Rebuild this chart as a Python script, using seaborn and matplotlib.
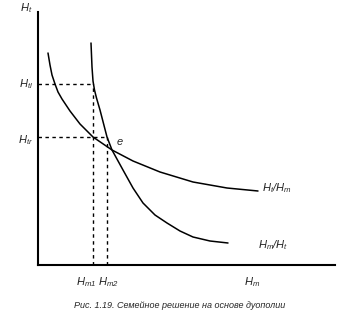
import matplotlib
matplotlib.use("Agg")
import matplotlib.pyplot as plt
import seaborn as sns
import pandas as pd

# Curve H_t/H_m (flatter)
c1_x = [10, 12, 14, 17, 20, 24, 32, 42, 55, 74, 95, 122, 155, 189, 220]
c1_y = [212, 200, 190, 181, 173, 166, 154, 141, 128, 115, 104, 93, 83, 77, 74]
# Curve H_m/H_t (steeper)
c2_x = [53, 53.5, 54, 55, 56.5, 58.5, 62, 69, 74, 85, 95, 105, 117, 129, 142, 155, 172, 190]
c2_y = [222, 210, 198, 184, 175, 167, 155, 128, 115, 95, 77, 62, 50, 42, 34, 28, 24, 22]

# guide levels
h_tl = 181
h_tr = 128
h_m1 = 55
h_m2 = 69

sns.set_style("white")
plt.rcParams['font.family'] = ['Liberation Sans', 'DejaVu Sans']
plt.rcParams['mathtext.fontset'] = 'custom'
plt.rcParams['mathtext.it'] = 'Liberation Sans:italic'
plt.rcParams['mathtext.rm'] = 'Liberation Sans:italic'

fig = plt.figure(figsize=(3.42, 3.25), dpi=100)
ax = fig.add_axes([38/342, 60/325, 297/342, 253/325])

df1 = pd.DataFrame({"x": c1_x, "y": c1_y})
df2 = pd.DataFrame({"x": c2_x, "y": c2_y})
sns.lineplot(data=df1, x="x", y="y", sort=False, color="black", lw=1.1, ax=ax)
sns.lineplot(data=df2, x="x", y="y", sort=False, color="black", lw=1.1, ax=ax)

dot = dict(color="black", lw=1.0, ls=(0, (2.5, 2.5)))
ax.plot([0, h_m1], [h_tl, h_tl], **dot)
ax.plot([h_m1, h_m1], [0, h_tl], **dot)
ax.plot([0, h_m2], [h_tr, h_tr], **dot)
ax.plot([h_m2, h_m2], [0, h_tr], **dot)

ax.set_xlim(0, 297)
ax.set_ylim(0, 253)
ax.set_xticks([])
ax.set_yticks([])
ax.set_xlabel("")
ax.set_ylabel("")
for s in ["top", "right"]:
    ax.spines[s].set_visible(False)
for s in ["left", "bottom"]:
    ax.spines[s].set_color("black")
    ax.spines[s].set_linewidth(1.5)

fs = 8
kw = dict(fontsize=fs, clip_on=False, ha="center", va="center")
ax.text(-12, 257, r"$H_t$", **kw)
ax.text(-12, h_tl, r"$H_{tl}$", **kw)
ax.text(-12, h_tr - 3, r"$H_{tr}$", **kw)
ax.text(48, -17, r"$H_{m1}$", **kw)
ax.text(70, -17, r"$H_{m2}$", **kw)
ax.text(214, -17, r"$H_m$", **kw)
ax.text(82, 123, r"$e$", **kw)
ax.text(224, 77, r"$H_t/H_m$", fontsize=fs, clip_on=False, ha="left", va="center")
ax.text(220, 20, r"$H_m/H_t$", fontsize=fs, clip_on=False, ha="left", va="center")

fig.text(180/342, 1 - 305/325, "Рис. 1.19. Семейное решение на основе дуополии",
         fontsize=6.5, style="italic", ha="center", va="center")

fig.savefig("out.png", dpi=100)
